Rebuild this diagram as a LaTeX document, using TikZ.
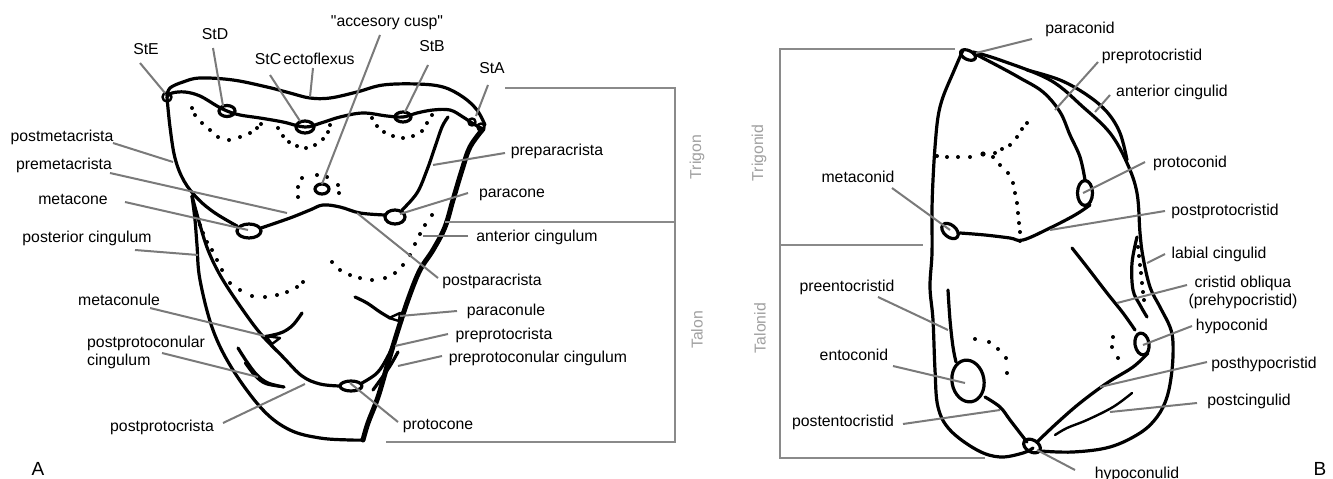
\documentclass[tikz,border=0pt]{standalone}
\usepackage{fontspec}
\setmainfont{Liberation Sans}[Ligatures=TeXOff]
\usetikzlibrary{calc}
\definecolor{leadgray}{HTML}{7A7A7A}
\definecolor{brgray}{HTML}{8A8A8A}
\definecolor{zonegray}{HTML}{A0A0A0}
\begin{document}
\begin{tikzpicture}[x=1pt,y=-1pt,
  lbl/.style={font=\fontsize{15.8}{17}\selectfont, inner sep=1pt, text=black, text height=11.5pt, text depth=3.5pt},
  lbltwo/.style={font=\fontsize{15.8}{18}\selectfont, inner sep=1pt, text=black},
  letter/.style={font=\fontsize{19}{21}\selectfont, inner sep=1pt},
  leader/.style={draw=leadgray, line width=2pt},
  bracket/.style={draw=brgray, line width=2.4pt},
  zone/.style={font=\fontsize{15.8}{17}\selectfont, text=zonegray, rotate=90, inner sep=1pt},
  crest/.style={draw=black, line width=3.2pt, line cap=round, line join=round},
  fine/.style={draw=black, line width=2.4pt, line cap=round, line join=round},
  heavy/.style={draw=black, line width=5pt, line cap=round, line join=round},
  dotm/.style={fill=black}
]
\useasboundingbox[fill=white] (0,0) rectangle (1333,479);

% ================= Upper molar (A) =================
% buccal margin
\draw[crest] plot[smooth, tension=0.6] coordinates {(167,96) (170,88) (183,82) (200,78) (233,80) (267,87) (290,93) (310,98) (330,98) (357,92) (383,85) (417,84) (443,87) (463,97) (477,110) (485,125)};
% stylar crest with the stylar cusps
\draw[crest] plot[smooth, tension=0.6] coordinates {(167,97) (172,93) (185,92) (200,96) (217,106) (227,111) (240,115) (260,118) (283,122) (305,127) (321,123) (340,117) (363,113) (387,116) (403,117) (417,113) (433,110) (450,110) (463,117) (472,123) (481,128)};
\draw[fine] (167,97) circle[radius=4.5pt];
\draw[crest] (227,111) ellipse[x radius=8pt, y radius=5.5pt];
\draw[crest] (305,127) ellipse[x radius=9pt, y radius=6pt];
\draw[crest] (403,117) ellipse[x radius=8pt, y radius=5pt];
\draw[fine] (472,122) circle[radius=3.5pt];
\draw[fine] (481,127) circle[radius=3.5pt];
% metacone and the centrocrista
\draw[crest] plot[smooth, tension=0.6] coordinates {(167,97) (170,127) (175,158) (184,181) (198,199) (215,213) (237,226)};
\draw[crest] (249,231) ellipse[x radius=12pt, y radius=7pt];
\draw[crest] plot[smooth, tension=0.6] coordinates {(261,228) (290,218) (310,210) (323,205) (340,207) (360,213) (385,215)};
\draw[crest] (395,217) ellipse[x radius=10pt, y radius=7pt];
% preparacrista
\draw[crest] plot[smooth, tension=0.6] coordinates {(402,210) (417,193) (427,170) (435,147) (442,127) (448,117)};
% accessory cusp with its dots
\draw[crest] (322,189) ellipse[x radius=7pt, y radius=5pt];
\foreach \x/\y in {302/178,298/187,298/197,317/175,327/177,338/185,339/193}
  \fill[dotm] (\x,\y) circle[radius=2pt];
% lingual wall from the parastyle
\draw[heavy] plot[smooth, tension=0.6] coordinates {(483,129) (470,147) (462,170) (453,200) (445,227) (433,250) (420,270) (409,297) (398,330) (388,363) (378,397) (368,423) (363,440)};
% posterior and basal margin
\draw[crest] plot[smooth, tension=0.6] coordinates {(192,196) (195,220) (197,245) (200,280) (213,330) (233,370) (263,410) (290,430) (320,438) (350,440) (363,440)};
% postprotocrista
\draw[crest] plot[smooth, tension=0.6] coordinates {(192,196) (200,225) (208,250) (220,275) (238,303) (260,333) (283,357) (302,376) (320,384) (340,386)};
% protocone
\draw[crest] (351,386) ellipse[x radius=11pt, y radius=5pt];
% preprotocrista
\draw[crest] plot[smooth, tension=0.6] coordinates {(362,383) (377,373) (387,358) (395,340) (400,323) (403,312)};
% paraconule
\draw[crest] plot[smooth, tension=0.6] coordinates {(355,297) (367,303) (380,312) (390,318)};
\draw[fine] (389,318) -- (400,313) -- (399,321) -- cycle;
% metaconule
\draw[crest] plot[smooth, tension=0.6] coordinates {(302,313) (293,325) (283,332) (273,335) (263,337)};
\draw[fine] (266,336) -- (280,338) -- (272,344) -- cycle;
% postprotoconular cingulum
\draw[crest] plot[smooth, tension=0.6] coordinates {(238,348) (247,362) (257,375) (268,383) (284,387)};
\draw[fine] plot[smooth, tension=0.6] coordinates {(245,363) (255,376) (266,384) (284,387)};
% preprotoconular cingulum
\draw[crest] plot[smooth, tension=0.6] coordinates {(398,352) (390,366) (381,379) (373,390)};
% dotted slopes
\foreach \x/\y in {192/108,195/115,202/123,210/130,218/137,229/140,240/137,250/133,257/128,261/124}
  \fill[dotm] (\x,\y) circle[radius=2pt];
\foreach \x/\y in {278/128,283/136,289/142,297/146,306/148,315/145,323/139,328/132,330/125}
  \fill[dotm] (\x,\y) circle[radius=2pt];
\foreach \x/\y in {372/118,377/126,384/132,393/136,403/138,413/136,422/131,427/123,432/115}
  \fill[dotm] (\x,\y) circle[radius=2pt];
\foreach \x/\y in {200/225,203/233,207/242,212/250,217/260,222/270,230/283,240/290,252/296,265/297,277/295,287/292,297/287,303/282}
  \fill[dotm] (\x,\y) circle[radius=2pt];
\foreach \x/\y in {332/262,340/270,350/275,360/278,372/280,385/278,395/273,403/265,410/255,415/244,420/234,425/225,432/215}
  \fill[dotm] (\x,\y) circle[radius=2pt];

% labels of A
\node[lbl] (lStE) at (146,50) {StE};
\node[lbl] (lStD) at (215,35) {StD};
\node[lbl] (lStC) at (268,60) {StC};
\node[lbl] (lecto) at (319,60) {ectoflexus};
\node[lbl] (lacc) at (387,23) {"accesory cusp"};
\node[lbl] (lStB) at (432,47) {StB};
\node[lbl] (lStA) at (492,69) {StA};
\node[lbl] (lpostmeta) at (62,137) {postmetacrista};
\node[lbl] (lpremeta) at (64,165) {premetacrista};
\node[lbl] (lmetacone) at (73,200) {metacone};
\node[lbl] (lpostcing) at (87,238) {posterior cingulum};
\node[lbl] (lmetaconule) at (119,301) {metaconule};
\node[lbltwo, anchor=west, align=left] (lpostprotocon) at (86,352) {postprotoconular\\cingulum};
\node[lbl] (lpostprotocrista) at (162,427) {postprotocrista};
\node[lbl] (lprepara) at (557,151) {preparacrista};
\node[lbl] (lparacone) at (512,193) {paracone};
\node[lbl] (lantcing) at (537,237) {anterior cingulum};
\node[lbl] (lpostpara) at (492,281) {postparacrista};
\node[lbl] (lparaconule) at (506,311) {paraconule};
\node[lbl] (lpreprotocrista) at (504,335) {preprotocrista};
\node[lbl] (lpreprotocon) at (538,358) {preprotoconular cingulum};
\node[lbl] (lprotocone) at (438,425) {protocone};
\node[letter] (lA) at (38,469) {A};

% leader ends of A
\coordinate (sStE) at (140,63);   \coordinate (tStE) at (165,93);
\coordinate (sStD) at (213,48);   \coordinate (tStD) at (223,106);
\coordinate (sStC) at (270,75);   \coordinate (tStC) at (300,121);
\coordinate (secto) at (313,68);  \coordinate (tecto) at (310,97);
\coordinate (sacc) at (380,35);   \coordinate (tacc) at (322,184);
\coordinate (sStB) at (428,65);   \coordinate (tStB) at (405,112);
\coordinate (sStA) at (488,85);   \coordinate (tStA) at (476,116);
\coordinate (spostmeta) at (113,143); \coordinate (tpostmeta) at (173,162);
\coordinate (spremeta) at (110,173);  \coordinate (tpremeta) at (287,213);
\coordinate (smetacone) at (125,202); \coordinate (tmetacone) at (248,230);
\coordinate (spostcing) at (135,250); \coordinate (tpostcing) at (198,255);
\coordinate (smetaconule) at (150,308); \coordinate (tmetaconule) at (265,336);
\coordinate (spostprotocon) at (162,353); \coordinate (tpostprotocon) at (258,377);
\coordinate (spostprotocrista) at (223,423); \coordinate (tpostprotocrista) at (305,384);
\coordinate (sprepara) at (505,153); \coordinate (tprepara) at (433,165);
\coordinate (sparacone) at (468,193); \coordinate (tparacone) at (400,214);
\coordinate (santcing) at (468,236); \coordinate (tantcing) at (423,236);
\coordinate (spostpara) at (438,278); \coordinate (tpostpara) at (357,213);
\coordinate (sparaconule) at (457,311); \coordinate (tparaconule) at (400,316);
\coordinate (spreprotocrista) at (448,334); \coordinate (tpreprotocrista) at (395,346);
\coordinate (spreprotocon) at (442,356); \coordinate (tpreprotocon) at (398,366);
\coordinate (sprotocone) at (398,422); \coordinate (tprotocone) at (350,383);
\foreach \n in {StE,StD,StC,ecto,acc,StB,StA,postmeta,premeta,metacone,postcing,metaconule,postprotocon,postprotocrista,prepara,paracone,antcing,postpara,paraconule,preprotocrista,preprotocon,protocone}
  \draw[leader] (s\n) -- (t\n);

% trigon / talon brackets
\draw[bracket] (505,88) -- (675,88) -- (675,442) -- (386,442);
\draw[bracket] (445,222) -- (675,222);
\node[zone] (ztrigon) at (697,157) {Trigon};
\node[zone] (ztalon) at (697,330) {Talon};

% ================= Lower molar (B) =================
% lingual margin
\draw[crest] plot[smooth, tension=0.6] coordinates {(963,50) (953,73) (943,97) (938,117) (935,147) (933,180) (932,210) (932,253) (930,287) (933,320) (935,370) (938,407) (950,430) (977,450) (1000,457) (1023,453) (1033,448)};
% labial margin
\draw[crest] plot[smooth, tension=0.6] coordinates {(973,52) (1000,60) (1050,80) (1083,107) (1110,133) (1127,163) (1137,193) (1140,233) (1143,257) (1150,287) (1160,307) (1170,327) (1173,343) (1172,370) (1167,397) (1157,417) (1140,433) (1110,447) (1073,452) (1040,451)};
% anterior cingulid
\draw[crest] plot[smooth, tension=0.6] coordinates {(1027,70) (1060,80) (1087,95) (1107,112) (1120,133) (1127,160)};
% preprotocristid
\draw[crest] plot[smooth, tension=0.6] coordinates {(977,55) (1000,67) (1020,78) (1043,92) (1060,112) (1070,135) (1080,157) (1085,180)};
% cusps of the trigonid
\draw[crest] (968,55) ellipse[x radius=8pt, y radius=4.5pt, rotate=-25];
\draw[crest] (1085,193) ellipse[x radius=7.5pt, y radius=12.5pt];
\draw[crest] (950,231) ellipse[x radius=9.5pt, y radius=6pt, rotate=-40];
% metacristid and postprotocristid
\draw[crest] plot[smooth, tension=0.6] coordinates {(960,233) (985,235) (1010,238) (1023,240) (1050,228) (1075,215) (1090,205)};
% dotted slopes of the trigonid
\foreach \x/\y in {937/156,947/157,958/157,970/157,993/157,995/153,1002/149,1010/145,1017/137,1022/129,1027/123,1000/165,1008/173,1013/183,1015/193,1017/203,1018/213,1019/223,1020/232,1020/241}
  \fill[dotm] (\x,\y) circle[radius=2pt];
\fill[dotm] (983,154) circle[radius=2.6pt];
% talonid crests
\draw[crest] plot[smooth, tension=0.6] coordinates {(948,290) (950,320) (953,347) (956,362)};
\draw[crest] (968,381) ellipse[x radius=16pt, y radius=21pt, rotate=10];
\draw[crest] plot[smooth, tension=0.6] coordinates {(985,397) (1000,407) (1010,420) (1020,433) (1027,442)};
\draw[crest] (1032,446) ellipse[x radius=9pt, y radius=6pt, rotate=-30];
\draw[crest] plot[smooth, tension=0.6] coordinates {(1072,248) (1087,267) (1107,293) (1123,313) (1135,330)};
\draw[crest] (1142,344) ellipse[x radius=7pt, y radius=11pt, rotate=10];
\draw[crest] plot[smooth, tension=0.6] coordinates {(1148,353) (1133,367) (1107,383) (1080,403) (1057,423) (1038,441)};
\draw[fine] plot[smooth, tension=0.6] coordinates {(1132,393) (1113,407) (1087,420) (1067,428) (1055,435)};
\draw[crest] plot[smooth, tension=0.6] coordinates {(1137,237) (1132,263) (1133,290) (1140,305) (1147,317)};
% dotted slopes of the talonid
\foreach \x/\y in {975/339,989/342,998/349,1006/358,1007/373,1113/337,1112/347,1118/358,1138/247,1139/256,1140/265,1141/273,1142/283,1143/292,1144/300}
  \fill[dotm] (\x,\y) circle[radius=2pt];

% labels of B
\node[lbl] (lparaconid) at (1080,29) {paraconid};
\node[lbl] (lpreprotocristid) at (1152,56) {preprotocristid};
\node[lbl] (lantcingulid) at (1172,92) {anterior cingulid};
\node[lbl] (lprotoconid) at (1190,163) {protoconid};
\node[lbl] (lpostprotocristid) at (1225,211) {postprotocristid};
\node[lbl] (lmetaconid) at (858,178) {metaconid};
\node[lbl] (llabcing) at (1219,254) {labial cingulid};
\node[lbltwo, align=center] (lcristid) at (1243,292) {cristid obliqua\\(prehypocristid)};
\node[lbl] (lhypoconid) at (1232,326) {hypoconid};
\node[lbl] (lposthypo) at (1264,364) {posthypocristid};
\node[lbl] (lpostcingulid) at (1249,401) {postcingulid};
\node[lbl] (lhypoconulid) at (1137,474) {hypoconulid};
\node[lbl] (lpreento) at (847,287) {preentocristid};
\node[lbl] (lentoconid) at (854,356) {entoconid};
\node[lbl] (lpostento) at (843,422) {postentocristid};
\node[letter] (lB) at (1320,469) {B};

% leader ends of B
\coordinate (sparaconid) at (1032,39); \coordinate (tparaconid) at (976,53);
\coordinate (spreprotocristid) at (1098,62); \coordinate (tpreprotocristid) at (1055,110);
\coordinate (santcingulid) at (1110,95); \coordinate (tantcingulid) at (1095,112);
\coordinate (sprotoconid) at (1145,162); \coordinate (tprotoconid) at (1083,193);
\coordinate (spostprotocristid) at (1165,211); \coordinate (tpostprotocristid) at (1050,230);
\coordinate (smetaconid) at (892,188); \coordinate (tmetaconid) at (950,230);
\coordinate (slabcing) at (1165,254); \coordinate (tlabcing) at (1147,263);
\coordinate (scristid) at (1187,285); \coordinate (tcristid) at (1117,303);
\coordinate (shypoconid) at (1192,326); \coordinate (thypoconid) at (1143,345);
\coordinate (sposthypo) at (1207,362); \coordinate (tposthypo) at (1100,387);
\coordinate (spostcingulid) at (1197,403); \coordinate (tpostcingulid) at (1110,412);
\coordinate (shypoconulid) at (1075,470); \coordinate (thypoconulid) at (1037,450);
\coordinate (spreento) at (878,297); \coordinate (tpreento) at (948,330);
\coordinate (sentoconid) at (893,366); \coordinate (tentoconid) at (965,383);
\coordinate (spostento) at (903,424); \coordinate (tpostento) at (1000,410);
\foreach \n in {paraconid,preprotocristid,antcingulid,protoconid,postprotocristid,metaconid,labcing,cristid,hypoconid,posthypo,postcingulid,hypoconulid,preento,entoconid,postento}
  \draw[leader] (s\n) -- (t\n);

% trigonid / talonid brackets
\draw[bracket] (955,49) -- (780,49) -- (780,458) -- (985,458);
\draw[bracket] (780,245) -- (923,245);
\node[zone] (ztrigonid) at (759,153) {Trigonid};
\node[zone] (ztalonid) at (760,328) {Talonid};
\end{tikzpicture}
\end{document}
